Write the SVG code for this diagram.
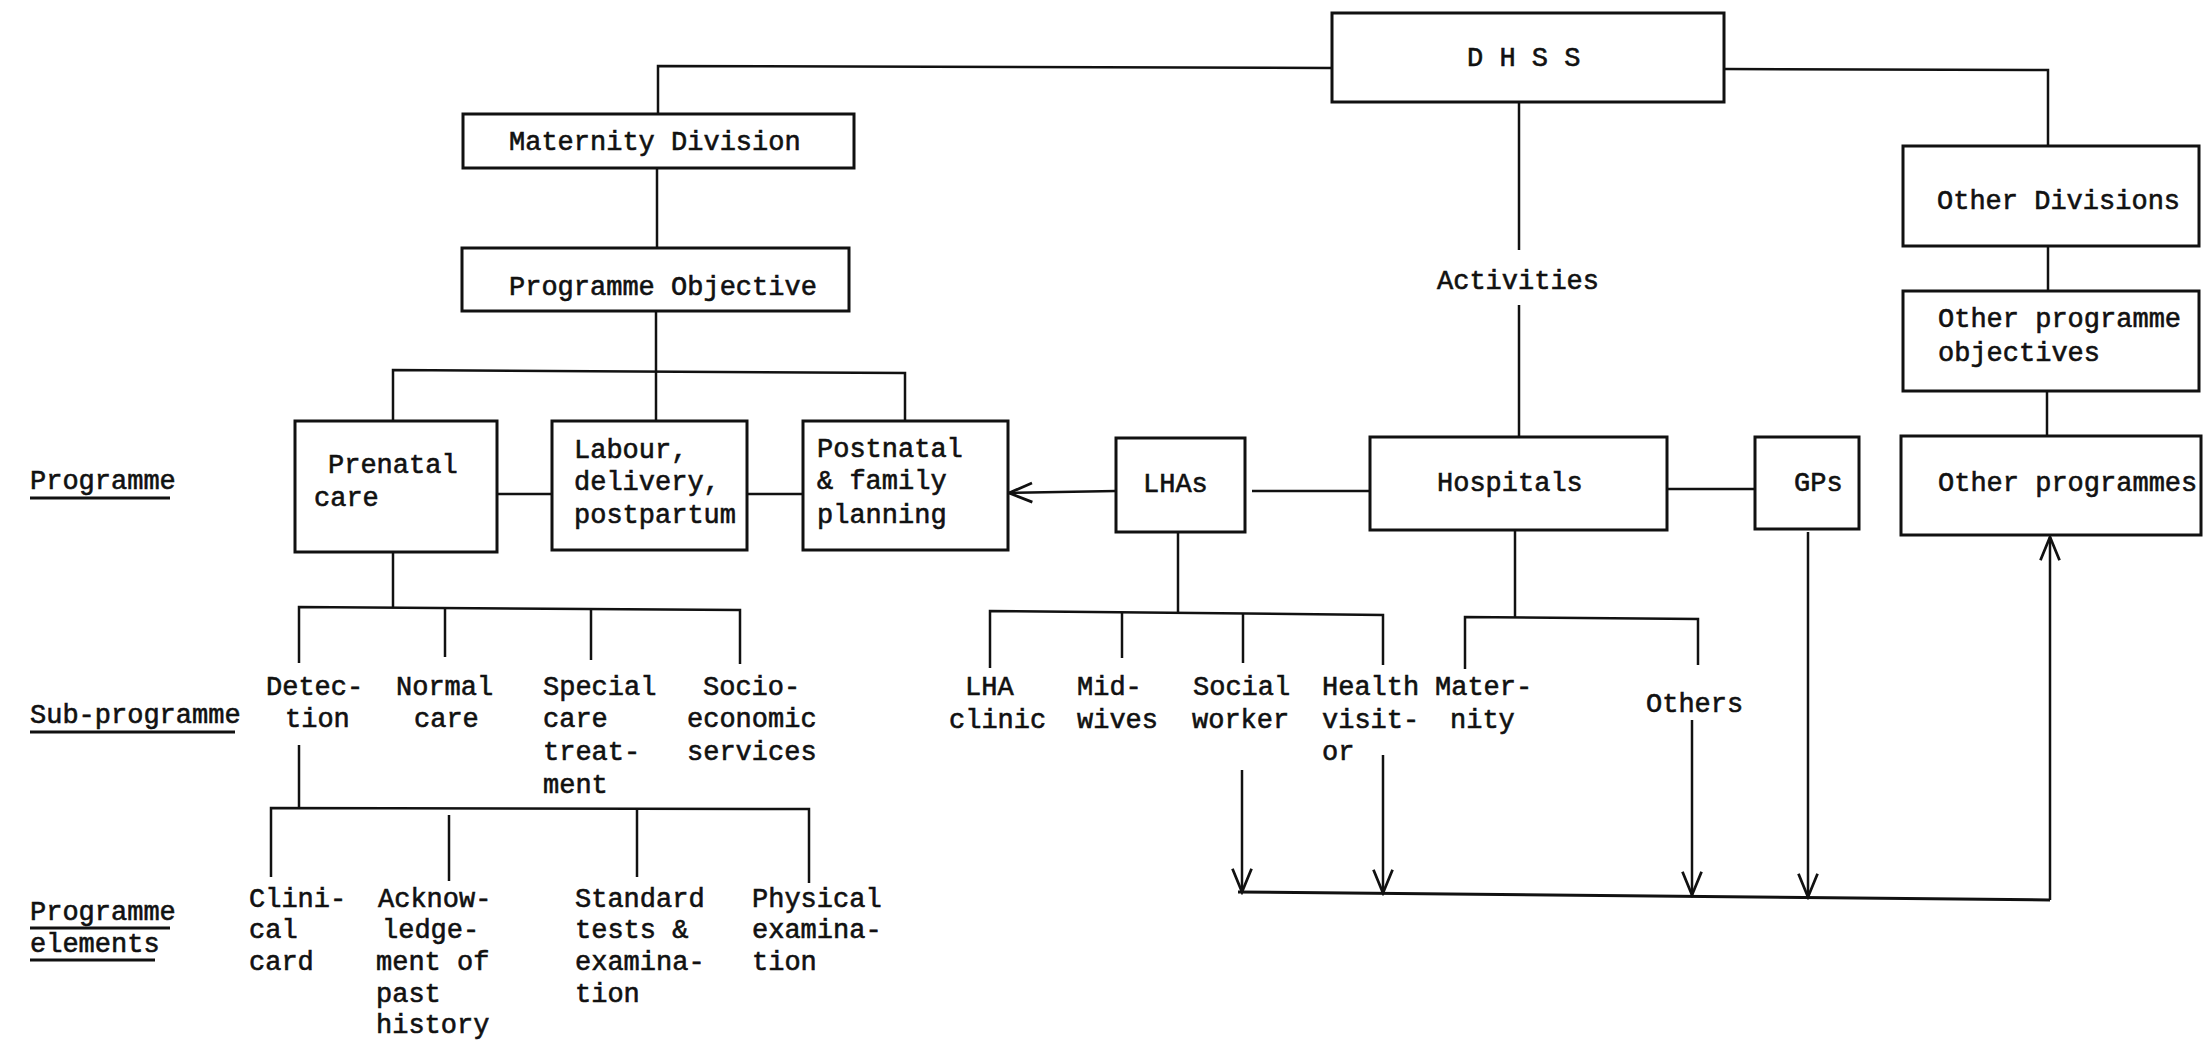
<svg xmlns="http://www.w3.org/2000/svg" width="2207" height="1048" viewBox="0 0 2207 1048">
<defs>
<style>
.box{fill:#fff;stroke:#111;stroke-width:3}
.ln{fill:none;stroke:#111;stroke-width:2.5}
.ul{fill:none;stroke:#111;stroke-width:3}
text{font-family:"Liberation Mono","Courier New",monospace;font-size:27px;fill:#111;stroke:#111;stroke-width:0.6}
</style>
<marker id="arr" markerUnits="userSpaceOnUse" markerWidth="30" markerHeight="30" viewBox="-20 -10 22 20" refX="0" refY="0" orient="auto">
<path d="M-17,-7 L0,0 L-17,7" fill="none" stroke="#111" stroke-width="2"/>
</marker>
</defs>
<rect width="2207" height="1048" fill="#fff"/>

<g id="connectors">
<polyline class="ln" points="1332,68 658,66 658,114"/>
<polyline class="ln" points="1724,69 2048,70 2048,146"/>
<line class="ln" x1="1519" y1="102" x2="1519" y2="250"/>
<line class="ln" x1="1519" y1="305" x2="1519" y2="437"/>
<line class="ln" x1="657" y1="168" x2="657" y2="248"/>
<line class="ln" x1="656" y1="311" x2="656" y2="421"/>
<polyline class="ln" points="393,421 393,370 905,373 905,421"/>
<line class="ln" x1="497" y1="494" x2="552" y2="494"/>
<line class="ln" x1="747" y1="494" x2="803" y2="494"/>
<line class="ln" x1="1116" y1="491" x2="1009" y2="493" marker-end="url(#arr)"/>
<line class="ln" x1="1252" y1="491" x2="1370" y2="491"/>
<line class="ln" x1="1667" y1="489" x2="1755" y2="489"/>
<line class="ln" x1="2048" y1="246" x2="2048" y2="291"/>
<line class="ln" x1="2047" y1="391" x2="2047" y2="436"/>
<line class="ln" x1="1178" y1="532" x2="1178" y2="612"/>
<polyline class="ln" points="990,668 990,611 1383,615 1383,665"/>
<line class="ln" x1="1122" y1="612" x2="1122" y2="658"/>
<line class="ln" x1="1243" y1="613" x2="1243" y2="663"/>
<line class="ln" x1="1515" y1="530" x2="1515" y2="617"/>
<polyline class="ln" points="1465,669 1465,617 1698,619 1698,665"/>
<line class="ln" x1="393" y1="552" x2="393" y2="607"/>
<polyline class="ln" points="299,663 299,607 740,610 740,664"/>
<line class="ln" x1="445" y1="608" x2="445" y2="657"/>
<line class="ln" x1="591" y1="609" x2="591" y2="660"/>
<line class="ln" x1="299" y1="745" x2="299" y2="808"/>
<polyline class="ln" points="271,877 271,808 809,809 809,883"/>
<line class="ln" x1="449" y1="815" x2="449" y2="881"/>
<line class="ln" x1="637" y1="808" x2="637" y2="877"/>
<line class="ln" x1="1242" y1="770" x2="1242" y2="892" marker-end="url(#arr)"/>
<line class="ln" x1="1383" y1="755" x2="1383" y2="893" marker-end="url(#arr)"/>
<line class="ln" x1="1692" y1="720" x2="1692" y2="895" marker-end="url(#arr)"/>
<line class="ln" x1="1808" y1="532" x2="1808" y2="897" marker-end="url(#arr)"/>
<line class="ul" x1="1238" y1="892" x2="2050" y2="900"/>
<line class="ln" x1="2050" y1="900" x2="2050" y2="537" marker-end="url(#arr)"/>
</g>

<g id="dhss"><rect class="box" x="1332" y="13" width="392" height="89"/><text x="1467" y="66">D H S S</text></g>
<g id="maternity-division"><rect class="box" x="463" y="114" width="391" height="54"/><text x="509" y="150">Maternity Division</text></g>
<g id="programme-objective"><rect class="box" x="462" y="248" width="387" height="63"/><text x="509" y="295">Programme Objective</text></g>
<g id="prenatal-care"><rect class="box" x="295" y="421" width="202" height="131"/><text x="328" y="473">Prenatal</text><text x="314" y="506">care</text></g>
<g id="labour"><rect class="box" x="552" y="421" width="195" height="129"/><text x="574" y="458">Labour,</text><text x="574" y="490">delivery,</text><text x="574" y="523">postpartum</text></g>
<g id="postnatal"><rect class="box" x="803" y="421" width="205" height="129"/><text x="817" y="457">Postnatal</text><text x="817" y="489">&amp; family</text><text x="817" y="523">planning</text></g>
<g id="lhas"><rect class="box" x="1116" y="438" width="129" height="94"/><text x="1143" y="492">LHAs</text></g>
<g id="hospitals"><rect class="box" x="1370" y="437" width="297" height="93"/><text x="1437" y="491">Hospitals</text></g>
<g id="gps"><rect class="box" x="1755" y="437" width="104" height="92"/><text x="1794" y="491">GPs</text></g>
<g id="other-divisions"><rect class="box" x="1903" y="146" width="296" height="100"/><text x="1937" y="209">Other Divisions</text></g>
<g id="other-programme-objectives"><rect class="box" x="1903" y="291" width="296" height="100"/><text x="1938" y="327">Other programme</text><text x="1938" y="361">objectives</text></g>
<g id="other-programmes"><rect class="box" x="1901" y="436" width="300" height="99"/><text x="1938" y="491">Other programmes</text></g>
<g id="activities"><text x="1437" y="289">Activities</text></g>

<g id="labels">
<text x="30" y="489">Programme</text><line class="ul" x1="30" y1="498" x2="170" y2="498"/>
<text x="30" y="723">Sub-programme</text><line class="ul" x1="30" y1="732" x2="235" y2="732"/>
<text x="30" y="920">Programme</text><line class="ul" x1="30" y1="928" x2="170" y2="928"/>
<text x="30" y="952">elements</text><line class="ul" x1="30" y1="960" x2="155" y2="960"/>
</g>

<g id="detection"><text x="266" y="695">Detec-</text><text x="285" y="727">tion</text></g>
<g id="normal-care"><text x="396" y="695">Normal</text><text x="414" y="727">care</text></g>
<g id="special-care"><text x="543" y="695">Special</text><text x="543" y="727">care</text><text x="543" y="760">treat-</text><text x="543" y="793">ment</text></g>
<g id="socio-economic"><text x="703" y="695">Socio-</text><text x="687" y="727">economic</text><text x="687" y="760">services</text></g>

<g id="lha-clinic"><text x="965" y="695">LHA</text><text x="949" y="728">clinic</text></g>
<g id="midwives"><text x="1077" y="695">Mid-</text><text x="1077" y="728">wives</text></g>
<g id="social-worker"><text x="1193" y="695">Social</text><text x="1192" y="728">worker</text></g>
<g id="health-visitor"><text x="1322" y="695">Health</text><text x="1322" y="728">visit-</text><text x="1322" y="760">or</text></g>
<g id="maternity"><text x="1435" y="695">Mater-</text><text x="1450" y="728">nity</text></g>
<g id="others"><text x="1646" y="712">Others</text></g>

<g id="clinical-card"><text x="249" y="907">Clini-</text><text x="249" y="938">cal</text><text x="249" y="970">card</text></g>
<g id="acknowledgement"><text x="378" y="907">Acknow-</text><text x="382" y="938">ledge-</text><text x="376" y="970">ment of</text><text x="376" y="1002">past</text><text x="376" y="1033">history</text></g>
<g id="standard-tests"><text x="575" y="907">Standard</text><text x="575" y="938">tests &amp;</text><text x="575" y="970">examina-</text><text x="575" y="1002">tion</text></g>
<g id="physical-examination"><text x="752" y="907">Physical</text><text x="752" y="938">examina-</text><text x="752" y="970">tion</text></g>
</svg>
